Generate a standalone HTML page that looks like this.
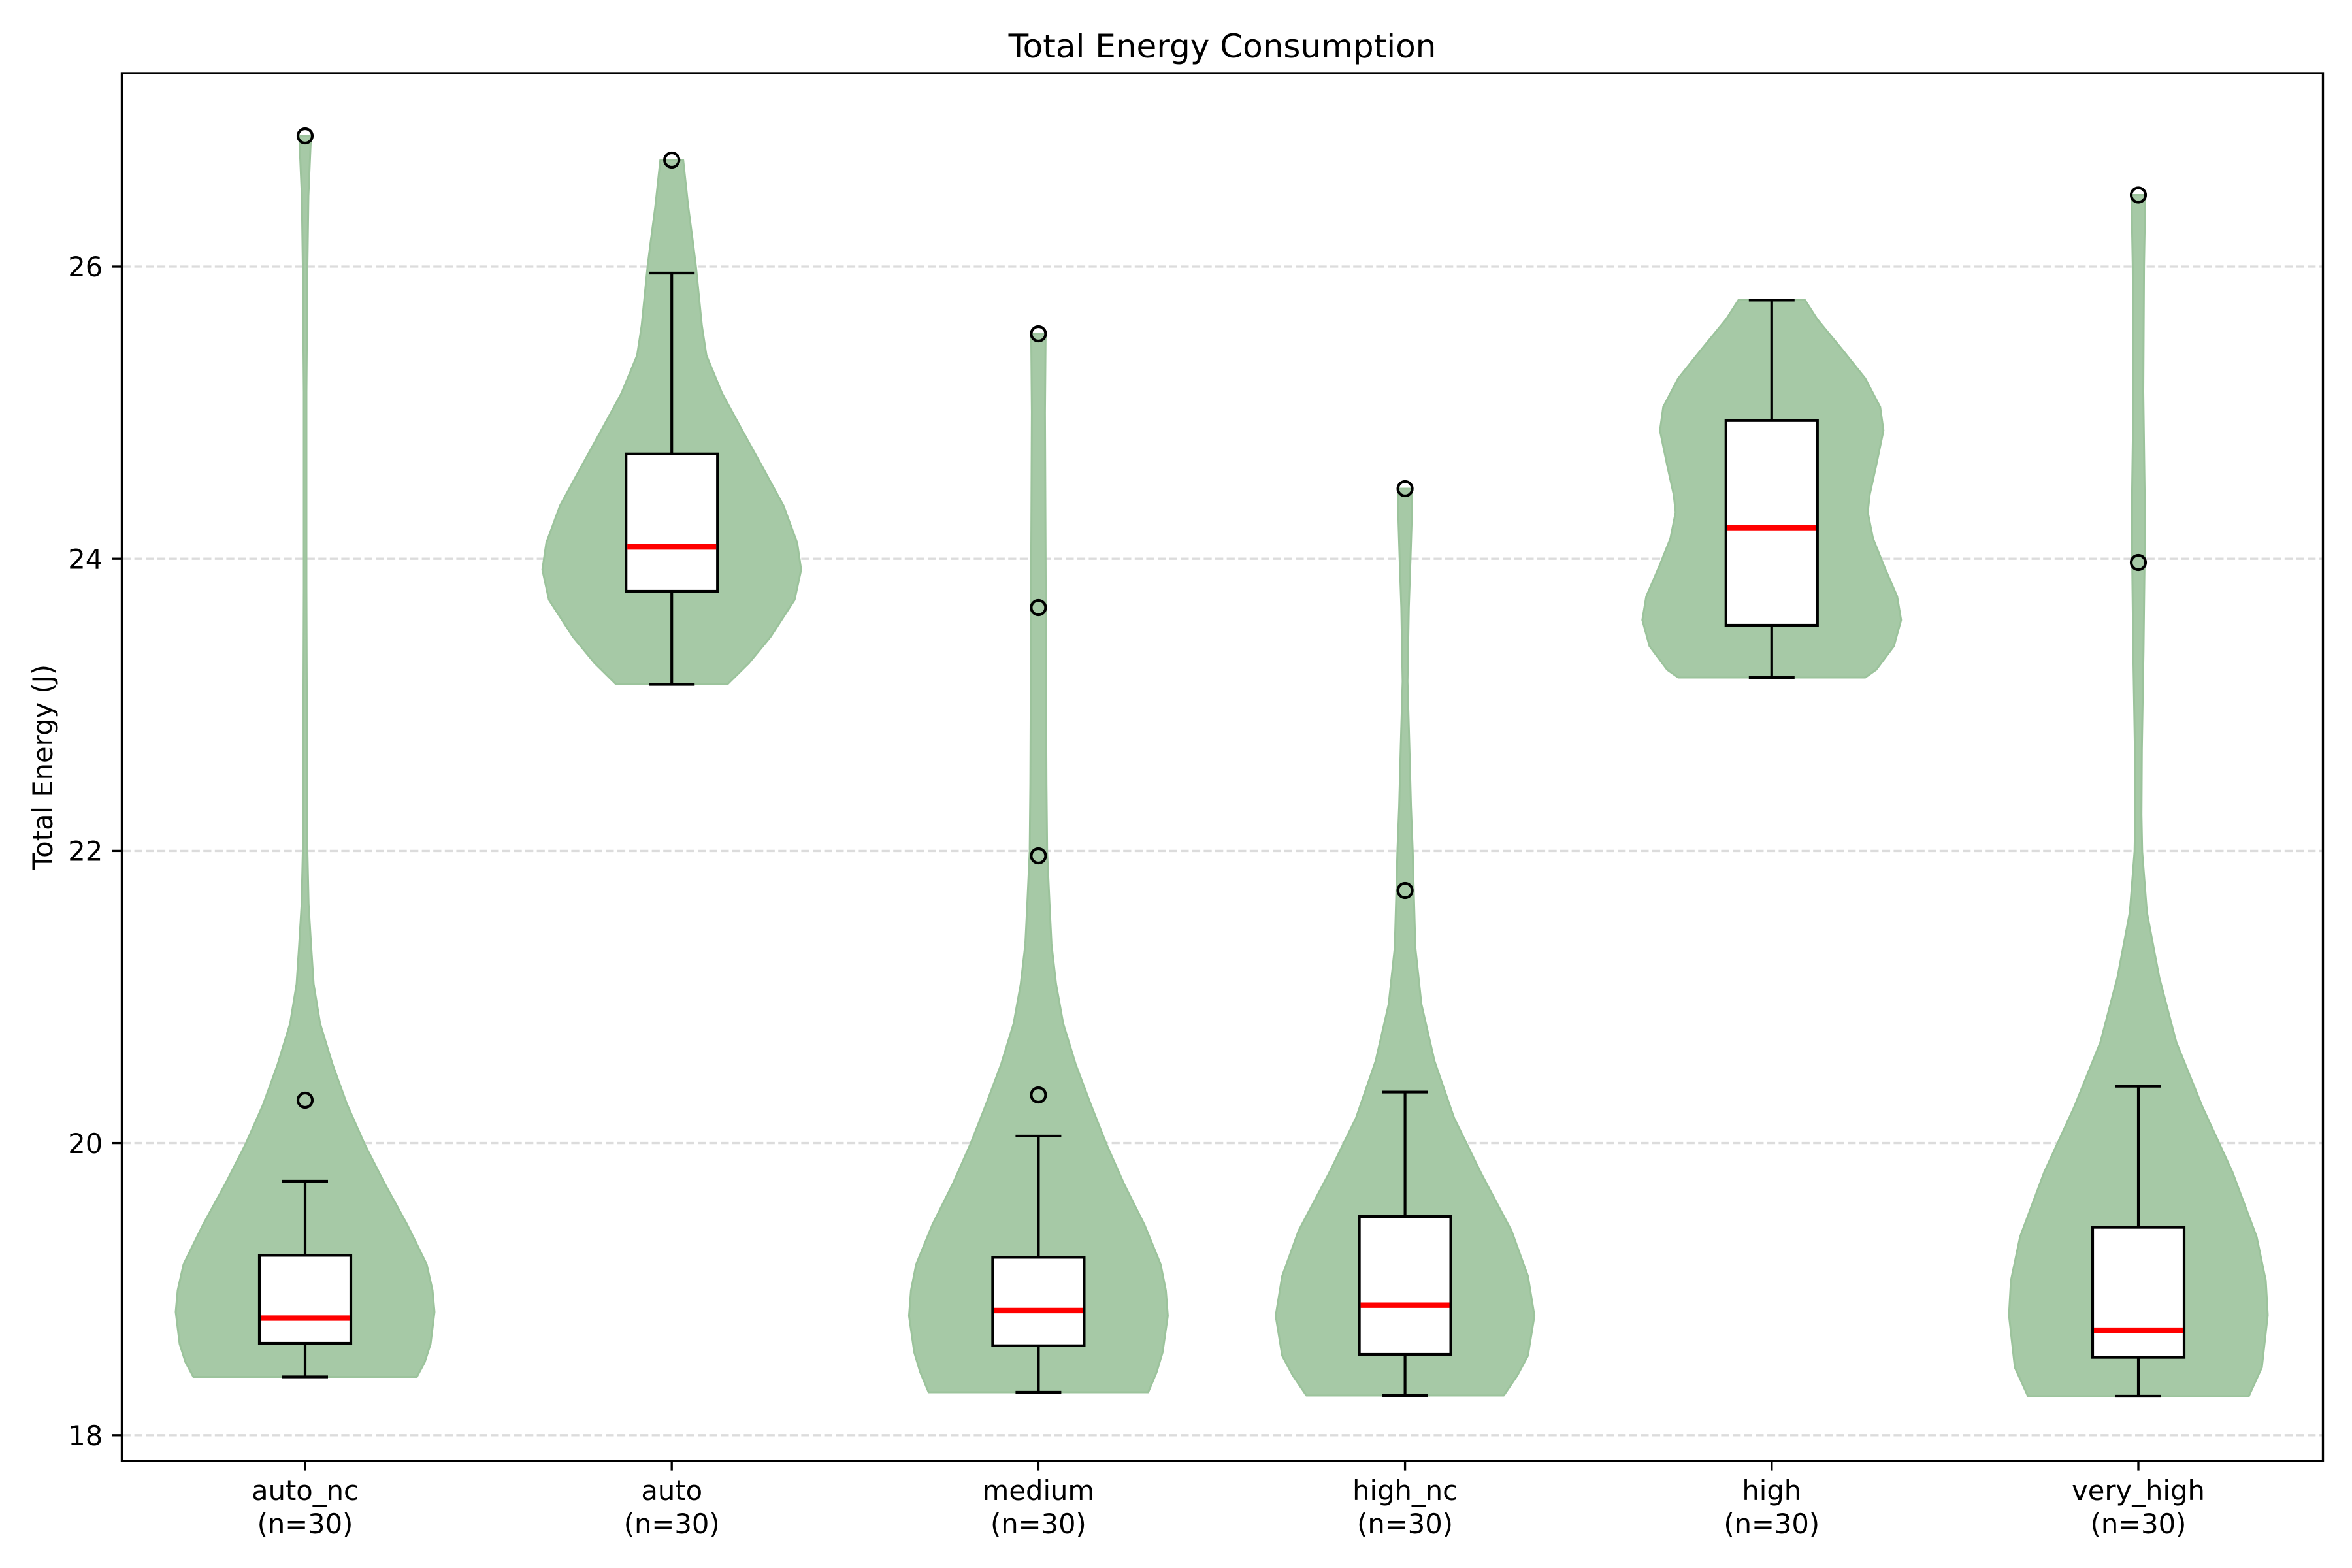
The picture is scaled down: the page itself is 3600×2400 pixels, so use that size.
<!DOCTYPE html>
<html>
<head>
<meta charset="utf-8">
<style>
  html, body { margin: 0; padding: 0; background: #ffffff; }
  svg { display: block; }
  text { font-family: "DejaVu Sans", "Liberation Sans", sans-serif; fill: #000000; }
</style>
</head>
<body>
<svg width="3600" height="2400" viewBox="0 0 3600 2400" xmlns="http://www.w3.org/2000/svg">
  <rect x="0" y="0" width="3600" height="2400" fill="#ffffff"/>

  <!-- Title -->
  <text x="1871" y="88" font-size="50" text-anchor="middle">Total Energy Consumption</text>

  <!-- Grid lines (horizontal, dashed) -->
  <g stroke="#dcdcdc" stroke-width="3.33" stroke-dasharray="12.3 5.3" fill="none">
    <line x1="188" y1="408" x2="3554" y2="408"/>
    <line x1="188" y1="855.2" x2="3554" y2="855.2"/>
    <line x1="188" y1="1302.4" x2="3554" y2="1302.4"/>
    <line x1="188" y1="1749.6" x2="3554" y2="1749.6"/>
    <line x1="188" y1="2196.8" x2="3554" y2="2196.8"/>
  </g>

  <!-- Violins -->
  <g fill="#a6c9a6" stroke="#9cc39c" stroke-width="3" stroke-linejoin="round">
    <!-- auto_nc -->
    <path d="M476,208 L475,230 L472,300 L470.5,408 L469,600 L469,900 L470,1200 L470.5,1303 L472.3,1384 L476,1445 L480,1506 L490,1567 L509,1629 L531,1690 L558,1751 L589,1812 L623,1874 L653,1935 L662,1975 L665,2008 L659,2057 L650,2085 L638,2107.5 L296,2107.5 L284,2085 L275,2057 L269,2008 L272,1975 L281,1935 L311,1874 L345,1812 L376,1751 L403,1690 L425,1629 L444,1567 L454,1506 L458,1445 L461.7,1384 L463.5,1303 L464,1200 L465,900 L465,600 L463.5,408 L462,300 L459,230 L458,208 Z"/>
    <!-- auto -->
    <path d="M1045.7,245 L1053.2,315 L1060.7,372 L1065.2,408 L1070.2,458 L1074.2,498 L1081.2,544 L1093.2,573 L1105.2,602 L1136.2,659 L1168.2,717 L1199.2,774 L1220.2,831 L1226.2,872 L1216.2,918 L1179.2,975 L1146.2,1015 L1113.2,1047.5 L943.2,1047.5 L910.2,1015 L877.2,975 L840.2,918 L830.2,872 L836.2,831 L857.2,774 L888.2,717 L920.2,659 L951.2,602 L963.2,573 L975.2,544 L982.2,498 L986.2,458 L991.2,408 L995.7,372 L1003.2,315 L1010.7,245 Z"/>
    <!-- medium -->
    <path d="M1600.4,511 L1599.4,631 L1600.4,861 L1600.9,1000 L1601.7,1200 L1602.7,1303 L1606.4,1384 L1609.4,1445 L1616.4,1506 L1627.4,1567 L1646.4,1629 L1669.4,1690 L1693.4,1751 L1720.4,1812 L1751.4,1874 L1776.4,1935 L1784.4,1975 L1787.4,2014 L1779.4,2070 L1770.4,2100 L1757.4,2131 L1421.4,2131 L1408.4,2100 L1399.4,2070 L1391.4,2014 L1394.4,1975 L1402.4,1935 L1427.4,1874 L1458.4,1812 L1485.4,1751 L1509.4,1690 L1532.4,1629 L1551.4,1567 L1562.4,1506 L1569.4,1445 L1572.4,1384 L1576.1,1303 L1577.1,1200 L1577.9,1000 L1578.4,861 L1579.4,631 L1578.4,511 Z"/>
    <!-- high_nc -->
    <path d="M2161.6,748 L2160.6,800 L2158.9,855 L2156.3,930 L2154.3,1043 L2157.3,1147 L2159.6,1234 L2162.3,1303 L2163.9,1364 L2166.3,1450 L2175.6,1537 L2195.6,1624 L2225.6,1711 L2267.6,1797 L2313.6,1884 L2338.6,1953 L2348.6,2014 L2338.6,2075 L2322.6,2105 L2301.6,2136 L1999.6,2136 L1978.6,2105 L1962.6,2075 L1952.6,2014 L1962.6,1953 L1987.6,1884 L2033.6,1797 L2075.6,1711 L2105.6,1624 L2125.6,1537 L2134.9,1450 L2137.3,1364 L2138.9,1303 L2141.6,1234 L2143.9,1147 L2146.9,1043 L2144.9,930 L2142.3,855 L2140.6,800 L2139.6,748 Z"/>
    <!-- high -->
    <path d="M2762.5,459 L2781.8,489 L2818.8,534 L2854.8,579 L2877.8,623 L2882.8,659 L2871.8,712 L2861.8,757 L2858.8,784 L2866.8,824 L2884.8,869 L2903.8,913 L2909.8,949 L2898.8,989 L2871.8,1025 L2854.8,1037 L2568.8,1037 L2551.8,1025 L2524.8,989 L2513.8,949 L2519.8,913 L2538.8,869 L2556.8,824 L2564.8,784 L2561.8,757 L2551.8,712 L2540.8,659 L2545.8,623 L2568.8,579 L2604.8,534 L2641.8,489 L2661.1,459 Z"/>
    <!-- very_high -->
    <path d="M3283.5,298.5 L3281.6,408 L3280.5,600 L3282.5,749 L3282.5,855 L3280.8,998 L3278.3,1147 L3277.7,1247 L3278.8,1303 L3286,1396 L3305,1496 L3331,1595 L3371,1694 L3417,1794 L3454,1893 L3468,1960 L3471,2013 L3462,2093 L3442,2137 L3104,2137 L3084,2093 L3075,2013 L3078,1960 L3092,1893 L3129,1794 L3175,1694 L3215,1595 L3241,1496 L3260,1396 L3267.2,1303 L3268.3,1247 L3267.7,1147 L3265.2,998 L3263.5,855 L3263.5,749 L3265.5,600 L3264.4,408 L3262.5,298.5 Z"/>
  </g>

  <!-- Box plots -->
  <g stroke="#000000" stroke-width="4.17" fill="none">
    <!-- auto_nc cx=467 -->
    <line x1="467" y1="2056" x2="467" y2="2107.5"/>
    <line x1="467" y1="1921.4" x2="467" y2="1808"/>
    <line x1="432" y1="2107.5" x2="502" y2="2107.5"/>
    <line x1="432" y1="1808" x2="502" y2="1808"/>
    <rect x="397" y="1921.4" width="140" height="134.6" fill="#ffffff"/>

    <!-- auto cx=1028.2 -->
    <line x1="1028.2" y1="905" x2="1028.2" y2="1047.5"/>
    <line x1="1028.2" y1="694.8" x2="1028.2" y2="418"/>
    <line x1="993.2" y1="1047.5" x2="1063.2" y2="1047.5"/>
    <line x1="993.2" y1="418" x2="1063.2" y2="418"/>
    <rect x="958.2" y="694.8" width="140" height="210.2" fill="#ffffff"/>

    <!-- medium cx=1589.4 -->
    <line x1="1589.4" y1="2059.8" x2="1589.4" y2="2131"/>
    <line x1="1589.4" y1="1924.4" x2="1589.4" y2="1738.9"/>
    <line x1="1554.4" y1="2131" x2="1624.4" y2="2131"/>
    <line x1="1554.4" y1="1738.9" x2="1624.4" y2="1738.9"/>
    <rect x="1519.4" y="1924.4" width="140" height="135.4" fill="#ffffff"/>

    <!-- high_nc cx=2150.6 -->
    <line x1="2150.6" y1="2073" x2="2150.6" y2="2136"/>
    <line x1="2150.6" y1="1862" x2="2150.6" y2="1671.6"/>
    <line x1="2115.6" y1="2136" x2="2185.6" y2="2136"/>
    <line x1="2115.6" y1="1671.6" x2="2185.6" y2="1671.6"/>
    <rect x="2080.6" y="1862" width="140" height="211" fill="#ffffff"/>

    <!-- high cx=2711.8 -->
    <line x1="2711.8" y1="957" x2="2711.8" y2="1037"/>
    <line x1="2711.8" y1="643.75" x2="2711.8" y2="459.4"/>
    <line x1="2676.8" y1="1037" x2="2746.8" y2="1037"/>
    <line x1="2676.8" y1="459.4" x2="2746.8" y2="459.4"/>
    <rect x="2641.8" y="643.75" width="140" height="313.25" fill="#ffffff"/>

    <!-- very_high cx=3273 -->
    <line x1="3273" y1="2077.6" x2="3273" y2="2137"/>
    <line x1="3273" y1="1878.6" x2="3273" y2="1662.7"/>
    <line x1="3238" y1="2137" x2="3308" y2="2137"/>
    <line x1="3238" y1="1662.7" x2="3308" y2="1662.7"/>
    <rect x="3203" y="1878.6" width="140" height="199" fill="#ffffff"/>
  </g>

  <!-- Medians -->
  <g stroke="#ff0000" stroke-width="8.33">
    <line x1="399" y1="2017.5" x2="535" y2="2017.5"/>
    <line x1="960.2" y1="837.2" x2="1096.2" y2="837.2"/>
    <line x1="1521.4" y1="2005.9" x2="1657.4" y2="2005.9"/>
    <line x1="2082.6" y1="1997.7" x2="2218.6" y2="1997.7"/>
    <line x1="2643.8" y1="807.6" x2="2779.8" y2="807.6"/>
    <line x1="3205" y1="2036" x2="3341" y2="2036"/>
  </g>

  <!-- Fliers -->
  <g stroke="#000000" stroke-width="4.17" fill="none">
    <circle cx="467" cy="208" r="11"/>
    <circle cx="467" cy="1684" r="11"/>
    <circle cx="1028.2" cy="245" r="11"/>
    <circle cx="1589.4" cy="511" r="11"/>
    <circle cx="1589.4" cy="930" r="11"/>
    <circle cx="1589.4" cy="1310" r="11"/>
    <circle cx="1589.4" cy="1676" r="11"/>
    <circle cx="2150.6" cy="748" r="11"/>
    <circle cx="2150.6" cy="1363" r="11"/>
    <circle cx="3273" cy="298.5" r="11"/>
    <circle cx="3273" cy="861" r="11"/>
  </g>

  <!-- Spines -->
  <rect x="186.5" y="112" width="3369" height="2124" fill="none" stroke="#000000" stroke-width="3.33"/>

  <!-- Y ticks -->
  <g stroke="#000000" stroke-width="3.33">
    <line x1="171.9" y1="408" x2="186.5" y2="408"/>
    <line x1="171.9" y1="855.2" x2="186.5" y2="855.2"/>
    <line x1="171.9" y1="1302.4" x2="186.5" y2="1302.4"/>
    <line x1="171.9" y1="1749.6" x2="186.5" y2="1749.6"/>
    <line x1="171.9" y1="2196.8" x2="186.5" y2="2196.8"/>
  </g>
  <g font-size="41.67" text-anchor="end">
    <text x="157.3" y="423.2">26</text>
    <text x="157.3" y="870.4">24</text>
    <text x="157.3" y="1317.6">22</text>
    <text x="157.3" y="1764.8">20</text>
    <text x="157.3" y="2212">18</text>
  </g>

  <!-- X ticks -->
  <g stroke="#000000" stroke-width="3.33">
    <line x1="467" y1="2236" x2="467" y2="2250.6"/>
    <line x1="1028.2" y1="2236" x2="1028.2" y2="2250.6"/>
    <line x1="1589.4" y1="2236" x2="1589.4" y2="2250.6"/>
    <line x1="2150.6" y1="2236" x2="2150.6" y2="2250.6"/>
    <line x1="2711.8" y1="2236" x2="2711.8" y2="2250.6"/>
    <line x1="3273" y1="2236" x2="3273" y2="2250.6"/>
  </g>
  <g font-size="41.67" text-anchor="middle">
    <text x="467" y="2296">auto_nc</text>
    <text x="467" y="2347">(n=30)</text>
    <text x="1028.2" y="2296">auto</text>
    <text x="1028.2" y="2347">(n=30)</text>
    <text x="1589.4" y="2296">medium</text>
    <text x="1589.4" y="2347">(n=30)</text>
    <text x="2150.6" y="2296">high_nc</text>
    <text x="2150.6" y="2347">(n=30)</text>
    <text x="2711.8" y="2296">high</text>
    <text x="2711.8" y="2347">(n=30)</text>
    <text x="3273" y="2296">very_high</text>
    <text x="3273" y="2347">(n=30)</text>
  </g>

  <!-- Y axis label -->
  <text transform="translate(80,1174) rotate(-90)" font-size="41.67" text-anchor="middle">Total Energy (J)</text>
</svg>
</body>
</html>
